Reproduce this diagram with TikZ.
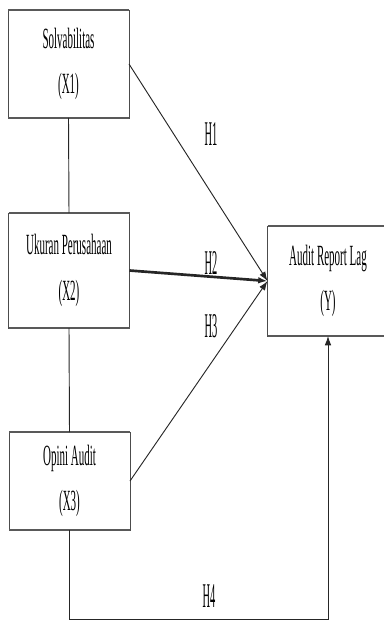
\documentclass[tikz,border=0pt]{standalone}
\usepackage{fontspec}
\setmainfont{Liberation Serif}[FakeStretch=0.375]
\newfontfamily\hfont{Liberation Serif}[FakeStretch=0.3]
\usepackage{tikz}
\usetikzlibrary{arrows.meta}
\tikzset{varbox/.style={draw=black!70,line width=0.5pt,minimum width=90.75pt,inner sep=0pt,outer sep=0pt,align=center,font=\fontsize{22pt}{26pt}\selectfont},
    rim/.style={draw=black!65,line width=1.8pt},
    link/.style={draw=black!85,line width=0.7pt},
    hyp/.style={link,-{Latex[length=7pt,width=5pt]}},
    hlabel/.style={inner sep=0pt,font=\hfont\fontsize{26pt}{30pt}\selectfont}}

\begin{document}
\begin{tikzpicture}[x=0.75pt,y=0.75pt,yscale=-1,xscale=1]
\useasboundingbox (0,0) rectangle (384,620);

% Variable boxes
\node[varbox,minimum height=81pt] (x1) at (68.5,64) {Solvabilitas\\[8pt](X1)};
\node[varbox,minimum height=86.25pt] (x2) at (69,270.5) {Ukuran Perusahaan\\[8pt](X2)};
\node[varbox,minimum height=73.5pt] (x3) at (69.5,481) {Opini Audit\\[8pt](X3)};
\node[varbox,minimum height=82.5pt] (y) at (328,281) {Audit Report Lag\\[8pt](Y)};
\foreach \n in {x1,x2,x3,y}{
  \draw[rim] (\n.north west) -- (\n.north east);
  \draw[rim] (\n.south west) -- (\n.south east);
}

% Links between X
\draw[link] (x1.south) -- (x2.north);
\draw[link] (x2.south) -- (x3.north);

% Hypotheses
\draw[hyp] (x1.east) -- (y.west);
\draw[hyp,line width=2pt] (x2.east) -- (y.west);
\draw[hyp] (x3.east) -- (y.west);
\draw[hyp] (x3.south) -- ++(0,89) -| (y.south);

% Text Node
\node[hlabel] (h1) at (211,134) {H1};
\node[hlabel] (h2) at (211,263) {H2};
\node[hlabel] (h3) at (211,326) {H3};
\node[hlabel] (h4) at (209,596) {H4};

\end{tikzpicture}
\end{document}
